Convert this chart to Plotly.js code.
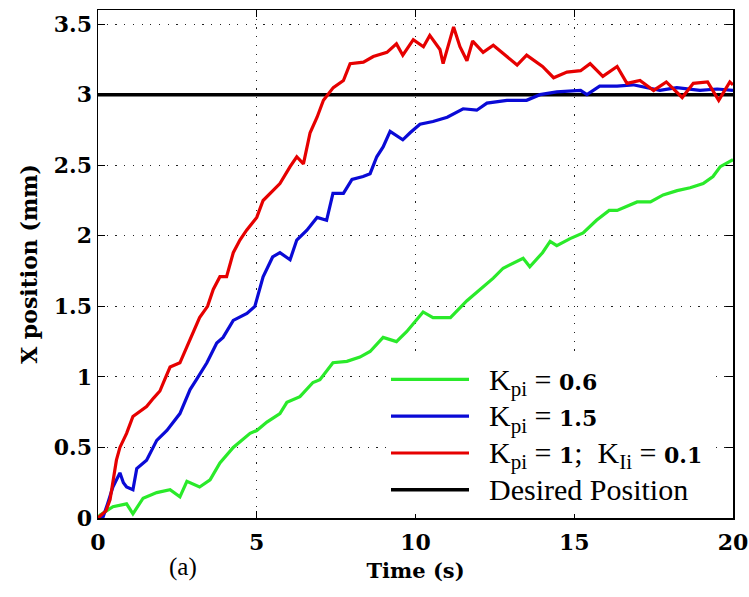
<!DOCTYPE html>
<html>
<head>
<meta charset="utf-8">
<script src="https://cdn.plot.ly/plotly-3.0.1.min.js"></script>
<style>html,body{margin:0;padding:0;background:#fff;}#chart{width:749px;height:597px;}</style>
</head>
<body>
<div id="chart"></div>
<script>
// Kpi = 1; KIi = 0.1 (red)
const redT = [0, 0.1, 0.25, 0.38, 0.47, 0.58, 0.69, 0.9, 1.1, 1.3, 1.53, 1.75, 1.95, 2.1, 2.27, 2.58, 2.9, 3.2, 3.45, 3.63, 3.84, 4.05, 4.26, 4.47, 4.68, 5.0, 5.2, 5.42, 5.73, 6.05, 6.26, 6.47, 6.68, 6.9, 7.1, 7.41, 7.73, 7.94, 8.36, 8.67, 9.1, 9.4, 9.6, 9.93, 10.25, 10.45, 10.77, 10.87, 11.2, 11.4, 11.62, 11.8, 12.13, 12.45, 12.88, 13.2, 13.5, 14.0, 14.35, 14.77, 15.2, 15.5, 15.9, 16.35, 16.66, 17.07, 17.5, 17.9, 18.4, 18.75, 19.2, 19.55, 19.9, 20];
const redY = [0, 0.02, 0.05, 0.13, 0.27, 0.41, 0.5, 0.6, 0.72, 0.75, 0.79, 0.85, 0.9, 0.98, 1.07, 1.1, 1.26, 1.42, 1.5, 1.62, 1.71, 1.71, 1.88, 1.97, 2.04, 2.13, 2.25, 2.3, 2.37, 2.49, 2.56, 2.51, 2.73, 2.84, 2.96, 3.05, 3.1, 3.22, 3.23, 3.27, 3.3, 3.36, 3.28, 3.39, 3.34, 3.42, 3.32, 3.22, 3.48, 3.34, 3.24, 3.38, 3.3, 3.35, 3.27, 3.21, 3.28, 3.2, 3.12, 3.16, 3.17, 3.22, 3.13, 3.2, 3.08, 3.1, 3.03, 3.09, 2.98, 3.08, 3.09, 2.96, 3.09, 3.07];
// Kpi = 1.5 (blue)
const blueT = [0, 0.15, 0.3, 0.47, 0.69, 0.8, 0.9, 1.1, 1.22, 1.53, 1.85, 2.17, 2.58, 2.68, 2.9, 3.1, 3.43, 3.74, 3.94, 4.26, 4.69, 4.94, 5.2, 5.5, 5.73, 6.05, 6.26, 6.58, 6.9, 7.2, 7.4, 7.73, 8.0, 8.35, 8.57, 8.78, 8.98, 9.2, 9.6, 9.83, 10.14, 10.55, 11.0, 11.5, 11.93, 12.25, 12.88, 13.5, 13.92, 14.45, 15.2, 15.4, 15.8, 16.35, 16.85, 17.7, 18.23, 18.96, 19.5, 20];
const blueY = [0, 0, 0.1, 0.22, 0.32, 0.25, 0.22, 0.2, 0.35, 0.41, 0.55, 0.62, 0.74, 0.79, 0.91, 0.98, 1.1, 1.24, 1.28, 1.4, 1.45, 1.5, 1.71, 1.85, 1.88, 1.83, 1.97, 2.04, 2.13, 2.11, 2.3, 2.3, 2.4, 2.42, 2.44, 2.56, 2.63, 2.74, 2.68, 2.73, 2.79, 2.81, 2.84, 2.9, 2.89, 2.94, 2.96, 2.96, 3.0, 3.02, 3.03, 3.0, 3.06, 3.06, 3.07, 3.03, 3.05, 3.03, 3.04, 3.03];
// Kpi = 0.6 (green)
const greenT = [0, 0.06, 0.47, 0.9, 1.1, 1.42, 1.85, 2.27, 2.58, 2.8, 3.2, 3.53, 3.84, 4.26, 4.79, 5.0, 5.32, 5.73, 5.95, 6.36, 6.77, 6.99, 7.4, 7.84, 8.25, 8.57, 8.98, 9.4, 9.72, 10.24, 10.55, 11.1, 11.62, 12.03, 12.45, 12.76, 13.39, 13.6, 14.0, 14.24, 14.45, 14.87, 15.28, 15.7, 16.1, 16.35, 16.98, 17.4, 17.8, 18.24, 18.65, 19.06, 19.37, 19.6, 20];
const greenY = [0, 0.02, 0.08, 0.1, 0.03, 0.14, 0.18, 0.2, 0.15, 0.26, 0.22, 0.27, 0.39, 0.5, 0.6, 0.62, 0.68, 0.74, 0.82, 0.86, 0.96, 0.98, 1.1, 1.11, 1.14, 1.18, 1.28, 1.25, 1.32, 1.46, 1.42, 1.42, 1.54, 1.62, 1.7, 1.77, 1.84, 1.78, 1.88, 1.96, 1.93, 1.98, 2.02, 2.11, 2.18, 2.18, 2.24, 2.24, 2.29, 2.32, 2.34, 2.37, 2.42, 2.49, 2.54];
// Desired position
const desiredT = [0, 20];
const desiredY = [3, 3];

const xTicks = [0, 5, 10, 15, 20];
const yTicks = [0, 0.5, 1, 1.5, 2, 2.5, 3, 3.5];

const num = s => '<span style="font-family:\'DejaVu Serif\';font-weight:bold;font-size:22px">' + s + '</span>';
const big = s => '<span style="font-size:30px">\u00a0\u00a0' + s + '</span>';
const names = {
  green: big('K<sub>pi</sub> = ' + num('0.6')),
  blue: big('K<sub>pi</sub> = ' + num('1.5')),
  red: big('K<sub>pi</sub> = ' + num('1') + ';  K<sub>Ii</sub> = ' + num('0.1')),
  desired: big('Desired Position')
};

const traces = [
  {x: desiredT, y: desiredY, name: names.desired, legendrank: 4, mode: 'lines', line: {color: '#000000', width: 3.5}},
  {x: greenT, y: greenY, name: names.green, legendrank: 1, mode: 'lines', line: {color: '#2aea2a', width: 3.2}},
  {x: blueT, y: blueY, name: names.blue, legendrank: 2, mode: 'lines', line: {color: '#0a0ad6', width: 3.2}},
  {x: redT, y: redY, name: names.red, legendrank: 3, mode: 'lines', line: {color: '#e60000', width: 3.2}}
];

const axisCommon = {
  showline: true, linecolor: '#000', linewidth: 1.5, mirror: 'ticks',
  ticks: 'inside', ticklen: 7, tickwidth: 1.2, tickcolor: '#000',
  showgrid: true, gridcolor: '#222', gridwidth: 1, griddash: '1.2px,7.5px',
  zeroline: false,
  tickfont: {family: 'DejaVu Serif', size: 22, color: '#000', weight: 'bold'}
};

const layout = {
  width: 749, height: 597,
  margin: {l: 98, r: 16, t: 10, b: 79},
  paper_bgcolor: '#fff', plot_bgcolor: '#fff',
  showlegend: true,
  xaxis: Object.assign({}, axisCommon, {
    range: [0, 20], tickvals: xTicks, ticktext: xTicks.map(String), ticklabelstandoff: 4,
    title: {text: 'Time (s)', font: {family: 'DejaVu Serif', size: 21, color: '#000', weight: 'bold'}, standoff: 9}
  }),
  yaxis: Object.assign({}, axisCommon, {
    range: [0, 3.6], tickvals: yTicks, ticktext: yTicks.map(String),
    title: {text: 'X position (mm)', font: {family: 'DejaVu Serif', size: 22, color: '#000', weight: 'bold'}, standoff: 10}
  }),
  legend: {
    x: (386 - 98) / 635, xanchor: 'left', y: 4 / 508, yanchor: 'bottom',
    bgcolor: '#fff', borderwidth: 0, traceorder: 'normal',
    font: {family: 'Liberation Serif', size: 26, color: '#000'},
    itemwidth: 78, tracegroupgap: 0
  },
  annotations: [{
    text: '(a)', xref: 'paper', yref: 'paper', x: (183 - 98) / 635, y: -(567 - 518) / 508,
    xanchor: 'center', yanchor: 'middle', showarrow: false,
    font: {family: 'Liberation Serif', size: 25, color: '#000'}
  }]
};

Plotly.newPlot('chart', traces, layout, {displayModeBar: false, staticPlot: true});
</script>
</body>
</html>
